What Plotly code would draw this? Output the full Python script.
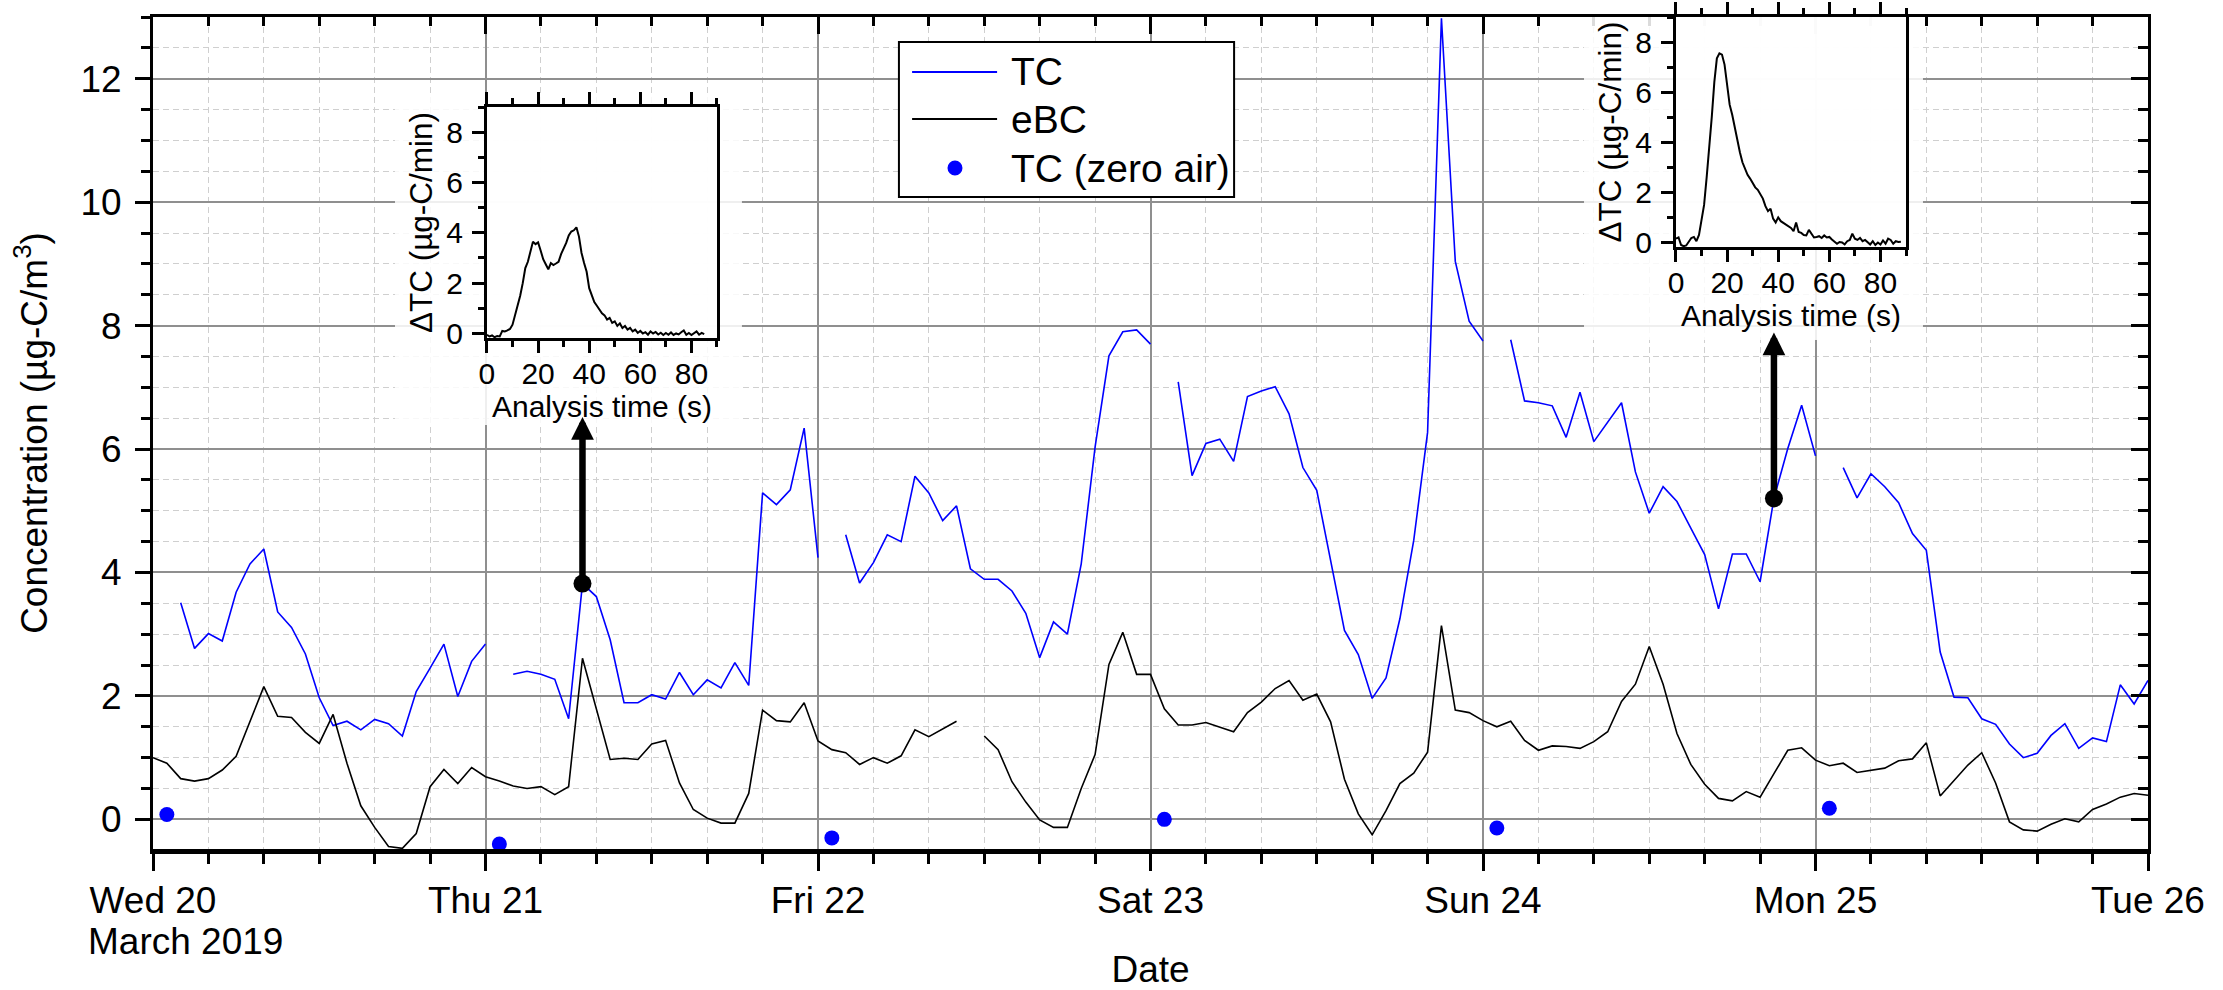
import pandas as pd
import plotly.graph_objects as go

# ---------------- data ----------------
start = pd.Timestamp("2019-03-20 00:00")
hours = pd.date_range(start, periods=145, freq="h")

# hourly total carbon (TC), µg-C/m3 ; None = no sample (zero-air check hour)
tc_wed = [None, None, 3.51, 2.77, 3.01, 2.89, 3.68, 4.14, 4.38, 3.36, 3.11, 2.68,
          1.97, 1.52, 1.59, 1.45, 1.62, 1.55, 1.35, 2.07, 2.45, 2.84, 1.99, 2.56]
tc_thu = [2.84, None, 2.35, 2.40, 2.35, 2.27, 1.63, 3.82, 3.61, 2.91, 1.89, 1.89,
          2.02, 1.95, 2.38, 2.02, 2.26, 2.13, 2.54, 2.17, 5.29, 5.10, 5.34, 6.34]
tc_fri = [4.24, None, 4.61, 3.83, 4.16, 4.61, 4.50, 5.56, 5.29, 4.84, 5.08, 4.06,
          3.89, 3.89, 3.70, 3.34, 2.62, 3.20, 3.00, 4.14, 6.03, 7.51, 7.90, 7.93]
tc_sat = [7.70, None, 7.09, 5.57, 6.09, 6.16, 5.80, 6.85, 6.94, 7.01, 6.57, 5.70,
          5.33, 4.17, 3.06, 2.67, 1.96, 2.29, 3.25, 4.52, 6.27, 12.98, 9.04, 8.07]
tc_sun = [7.75, None, 7.77, 6.78, 6.75, 6.70, 6.19, 6.92, 6.12, 6.44, 6.75, 5.63,
          4.96, 5.39, 5.15, 4.72, 4.29, 3.41, 4.30, 4.30, 3.85, 5.20, 6.01, 6.71]
tc_mon = [5.89, None, 5.70, 5.21, 5.60, 5.39, 5.13, 4.63, 4.36, 2.71, 1.98, 1.97,
          1.63, 1.54, 1.22, 1.00, 1.07, 1.36, 1.55, 1.15, 1.32, 1.26, 2.18, 1.87]
tc_tue = [2.25]

# hourly equivalent black carbon (eBC), µg-C/m3
ebc_wed = [1.00, 0.91, 0.66, 0.62, 0.66, 0.80, 1.02, 1.59, 2.15, 1.67, 1.65, 1.41,
           1.23, 1.70, 0.91, 0.22, -0.13, -0.44, -0.47, -0.23, 0.53, 0.81, 0.58, 0.84]
ebc_thu = [0.69, 0.62, 0.54, 0.50, 0.53, 0.40, 0.53, 2.61, 1.79, 0.97, 0.99, 0.97,
           1.22, 1.28, 0.59, 0.16, 0.02, -0.06, -0.06, 0.42, 1.77, 1.60, 1.58, 1.89]
ebc_fri = [1.27, 1.13, 1.08, 0.89, 1.00, 0.91, 1.03, 1.45, 1.34, 1.47, 1.59, None,
           1.35, 1.13, 0.61, 0.28, -0.01, -0.13, -0.13, 0.50, 1.05, 2.51, 3.03, 2.35]
ebc_sat = [2.35, 1.79, 1.53, 1.53, 1.57, 1.49, 1.42, 1.73, 1.90, 2.12, 2.25, 1.93,
           2.03, 1.58, 0.65, 0.09, -0.25, 0.14, 0.58, 0.75, 1.09, 3.14, 1.77, 1.73]
ebc_sun = [1.60, 1.50, 1.59, 1.28, 1.12, 1.19, 1.18, 1.15, 1.26, 1.42, 1.91, 2.19,
           2.80, 2.19, 1.39, 0.89, 0.57, 0.34, 0.30, 0.45, 0.36, 0.74, 1.12, 1.16]
ebc_mon = [0.96, 0.87, 0.91, 0.76, 0.80, 0.83, 0.95, 0.98, 1.24, 0.38, 0.63, 0.88,
           1.08, 0.59, -0.04, -0.17, -0.19, -0.08, 0.01, -0.04, 0.16, 0.25, 0.36, 0.42]
ebc_tue = [0.39]

tc = tc_wed + tc_thu + tc_fri + tc_sat + tc_sun + tc_mon + tc_tue
ebc = ebc_wed + ebc_thu + ebc_fri + ebc_sat + ebc_sun + ebc_mon + ebc_tue

# daily zero-air TC checks
zero_times = ["2019-03-20 01:00", "2019-03-21 01:00", "2019-03-22 01:00",
              "2019-03-23 01:00", "2019-03-24 01:00", "2019-03-25 01:00"]
zero_tc = [0.08, -0.40, -0.30, 0.00, -0.14, 0.18]

# samples whose thermograms are shown in the insets (hour index into `hours`)
sample_idx = [31, 117]
arrow_tip = [6.52, 7.89]

# thermograms, ΔTC (µg-C/min) vs analysis time (s)
thermo1_t = list(range(0, 86))
thermo1 = [-0.05, -0.12, -0.08, -0.15, -0.10, -0.12, 0.10, 0.08, 0.12, 0.18,
           0.35, 0.70, 1.05, 1.50, 2.00, 2.60, 2.85, 3.25, 3.65, 3.55,
           3.62, 3.30, 2.95, 2.75, 2.55, 2.80, 2.72, 2.78, 2.85, 3.15,
           3.35, 3.60, 3.90, 4.05, 4.10, 4.22, 3.85, 3.20, 2.80, 2.45,
           1.80, 1.50, 1.25, 1.10, 0.95, 0.80, 0.72, 0.55, 0.62, 0.42,
           0.48, 0.30, 0.40, 0.22, 0.30, 0.15, 0.22, 0.08, 0.15, 0.02,
           0.10, 0.00, 0.05, -0.05, 0.08, 0.00, 0.06, -0.04, 0.03, -0.06,
           0.02, -0.05, 0.04, -0.06, 0.00, -0.04, 0.05, 0.12, -0.05, 0.02,
           -0.06, 0.00, 0.08, -0.05, 0.02, -0.03]
thermo2_t = list(range(0, 89))
thermo2 = [0.15, 0.20, -0.10, -0.15, -0.12, 0.05, 0.18, 0.22, 0.05, 0.30,
           0.85, 1.50, 2.60, 3.70, 5.00, 6.40, 7.35, 7.55, 7.50, 7.10,
           6.20, 5.50, 5.10, 4.60, 4.05, 3.60, 3.20, 2.95, 2.70, 2.55,
           2.35, 2.20, 2.10, 1.95, 1.75, 1.45, 1.25, 1.35, 0.95, 0.80,
           1.00, 0.85, 0.78, 0.70, 0.62, 0.58, 0.45, 0.80, 0.42, 0.38,
           0.30, 0.28, 0.50, 0.35, 0.20, 0.22, 0.25, 0.18, 0.28, 0.20,
           0.22, 0.12, 0.05, -0.05, 0.02, 0.00, -0.08, 0.05, 0.10, 0.35,
           0.15, 0.10, 0.18, 0.05, 0.10, 0.02, -0.08, 0.05, -0.10, 0.00,
           -0.08, 0.08, -0.05, 0.15, 0.10, -0.05, 0.05, 0.02, 0.03]

day_ticks = ["2019-03-20", "2019-03-21", "2019-03-22", "2019-03-23",
             "2019-03-24", "2019-03-25", "2019-03-26"]
day_labels = ["Wed 20", "Thu 21", "Fri 22", "Sat 23", "Sun 24", "Mon 25", "Tue 26"]

legend_names = ["TC", "eBC", "TC (zero air)"]

# ---------------- styling ----------------
FONT = "Liberation Sans, Arial, sans-serif"
BIG = 37
SMALL = 30
BLUE = "#0000ff"
MAJOR_GRID = "#8f8f8f"
MINOR_GRID = "#cfcfcf"
DASH = "6px,4px"

fig = go.Figure()

fig.add_trace(go.Scatter(x=hours, y=tc, mode="lines", name=legend_names[0],
                         line=dict(color=BLUE, width=1.6), connectgaps=False,
                         showlegend=False))
fig.add_trace(go.Scatter(x=hours, y=ebc, mode="lines", name=legend_names[1],
                         line=dict(color="black", width=1.6), connectgaps=False,
                         showlegend=False))
fig.add_trace(go.Scatter(x=pd.to_datetime(zero_times), y=zero_tc, mode="markers",
                         name=legend_names[2], marker=dict(color=BLUE, size=15),
                         showlegend=False))

# highlighted samples
fig.add_trace(go.Scatter(x=[hours[i] for i in sample_idx],
                         y=[tc[i] for i in sample_idx], mode="markers",
                         marker=dict(color="black", size=18), showlegend=False))

# mirrored frame axes (top / right, inward ticks)
fig.add_trace(go.Scatter(x=[None], y=[None], xaxis="x2", yaxis="y2",
                         showlegend=False, hoverinfo="skip"))

# translucent panels behind the insets (their subplot backgrounds)
for k in ("3", "4"):
    fig.add_trace(go.Scatter(x=[None], y=[None], xaxis="x" + k, yaxis="y" + k,
                             showlegend=False, hoverinfo="skip"))

# inset thermograms
fig.add_trace(go.Scatter(x=thermo1_t, y=thermo1, mode="lines", xaxis="x5", yaxis="y5",
                         line=dict(color="black", width=2), showlegend=False))
fig.add_trace(go.Scatter(x=thermo2_t, y=thermo2, mode="lines", xaxis="x6", yaxis="y6",
                         line=dict(color="black", width=2), showlegend=False))

x_range = [start, pd.Timestamp("2019-03-26 00:00")]
y_range = [-0.48, 13]
four_h = 4 * 3600 * 1000

fig.update_layout(
    width=2223, height=990, autosize=False,
    margin=dict(l=153, r=75, t=17, b=141),
    paper_bgcolor="white", plot_bgcolor="rgba(255,255,255,0.86)",
    font=dict(family=FONT, size=BIG, color="black"),
    showlegend=False,
    xaxis=dict(
        type="date", range=x_range, domain=[0, 1], anchor="y",
        tickmode="array", tickvals=day_ticks, ticktext=day_labels,
        ticks="outside", ticklen=17, tickwidth=3, tickcolor="black",
        showline=True, linewidth=4.5, linecolor="black",
        showgrid=True, gridcolor=MAJOR_GRID, gridwidth=1.5, zeroline=False,
        minor=dict(tickmode="linear", tick0="2019-03-20", dtick=four_h,
                   ticks="outside", ticklen=10, tickwidth=3, tickcolor="black",
                   showgrid=True, gridcolor=MINOR_GRID, gridwidth=1, griddash=DASH),
        tickfont=dict(size=BIG), ticklabelstandoff=-2,
        title=dict(text="Date", font=dict(size=BIG), standoff=46),
        automargin=False,
    ),
    yaxis=dict(
        range=y_range, domain=[0, 1], anchor="x",
        tick0=0, dtick=2, ticks="outside", ticklen=15, tickwidth=3, tickcolor="black",
        showline=True, linewidth=3, linecolor="black",
        showgrid=True, gridcolor=MAJOR_GRID, gridwidth=1.5, zeroline=False,
        minor=dict(dtick=0.5, ticks="outside", ticklen=9, tickwidth=3, tickcolor="black",
                   showgrid=True, gridcolor=MINOR_GRID, gridwidth=1, griddash=DASH),
        tickfont=dict(size=BIG), ticklabelstandoff=6,
        title=dict(text="Concentration (µg-C/m<sup>3</sup>)", font=dict(size=BIG),
                   standoff=22),
        automargin=False,
    ),
    xaxis2=dict(
        type="date", range=x_range, overlaying="x", side="top", anchor="y2",
        tickmode="array", tickvals=day_ticks, showticklabels=False,
        ticks="inside", ticklen=17, tickwidth=3, tickcolor="black",
        showline=True, linewidth=3, linecolor="black", showgrid=False, zeroline=False,
        minor=dict(tickmode="linear", tick0="2019-03-20", dtick=four_h,
                   ticks="inside", ticklen=9, tickwidth=3, tickcolor="black",
                   showgrid=False),
        automargin=False,
    ),
    yaxis2=dict(
        range=y_range, overlaying="y", side="right", anchor="x2",
        tick0=0, dtick=2, showticklabels=False,
        ticks="inside", ticklen=17, tickwidth=3, tickcolor="black",
        showline=True, linewidth=3, linecolor="black", showgrid=False, zeroline=False,
        minor=dict(dtick=0.5, ticks="inside", ticklen=10, tickwidth=3, tickcolor="black",
                   showgrid=False),
        automargin=False,
    ),
)

# bare axes for the two panels
panel_axis = dict(range=[0, 1], showline=False, showgrid=False, zeroline=False,
                  showticklabels=False, ticks="", fixedrange=True, automargin=False)
fig.update_layout(
    xaxis3=dict(panel_axis, domain=[0.1213, 0.2952], anchor="y3"),
    yaxis3=dict(panel_axis, domain=[0.5096, 0.9062], anchor="x3"),
    xaxis4=dict(panel_axis, domain=[0.7173, 0.8872], anchor="y4"),
    yaxis4=dict(panel_axis, domain=[0.6118, 1.0], anchor="x4"),
)

inset_x = dict(range=[0, 90], tick0=0, dtick=20, ticks="outside", ticklen=12, tickwidth=3,
               tickcolor="black", mirror="allticks", showline=True, linewidth=3,
               linecolor="black", showgrid=False, zeroline=False, automargin=False,
               minor=dict(dtick=10, ticks="outside", ticklen=6, tickwidth=3,
                          tickcolor="black", showgrid=False),
               tickfont=dict(size=SMALL), ticklabelstandoff=-5,
               title=dict(text="Analysis time (s)", font=dict(size=SMALL), standoff=0))
inset_y = dict(range=[-0.18, 9], tick0=0, dtick=2, ticks="outside", ticklen=12, tickwidth=3,
               tickcolor="black", mirror=True, showline=True, linewidth=3,
               linecolor="black", showgrid=False, zeroline=False, automargin=False,
               minor=dict(dtick=1, ticks="outside", ticklen=6, tickwidth=3,
                          tickcolor="black", showgrid=False),
               tickfont=dict(size=SMALL), ticklabelstandoff=3,
               title=dict(text="ΔTC (µg-C/min)", font=dict(size=31.5), standoff=5))

fig.update_layout(
    xaxis5=dict(inset_x, domain=[0.1674, 0.2827], anchor="y5"),
    yaxis5=dict(inset_y, domain=[0.6142, 0.8918], anchor="x5"),
    xaxis6=dict(inset_x, domain=[0.7634, 0.8787], anchor="y6"),
    yaxis6=dict(inset_y, domain=[0.7236, 1.0], anchor="x6"),
)

# arrows from the highlighted samples up to their thermograms
for i, tip in zip(sample_idx, arrow_tip):
    fig.add_annotation(x=hours[i], y=tip, ax=hours[i], ay=tc[i],
                       xref="x", yref="y", axref="x", ayref="y",
                       text="", showarrow=True, arrowhead=2, arrowsize=0.7,
                       arrowwidth=6.5, arrowcolor="black", standoff=0, startstandoff=0)

fig.add_annotation(text="March 2019", xref="paper", yref="paper",
                   x=-0.0335, y=-0.111, xanchor="left", yanchor="middle",
                   showarrow=False, font=dict(family=FONT, size=BIG))

# ---------------- legend box ----------------
fig.add_shape(type="rect", xref="paper", yref="paper", layer="above",
              x0=0.3739, x1=0.5419, y0=0.7837, y1=0.9700,
              fillcolor="white", line=dict(color="black", width=2))
row_y = [0.9339, 0.8774, 0.8185]
fig.add_shape(type="line", xref="paper", yref="paper", layer="above",
              x0=0.3805, x1=0.4231, y0=row_y[0], y1=row_y[0],
              line=dict(color=BLUE, width=2))
fig.add_shape(type="line", xref="paper", yref="paper", layer="above",
              x0=0.3805, x1=0.4231, y0=row_y[1], y1=row_y[1],
              line=dict(color="black", width=2))
fig.add_shape(type="circle", xref="paper", yref="paper", layer="above",
              xsizemode="pixel", ysizemode="pixel", xanchor=0.4020, yanchor=row_y[2],
              x0=-7.5, x1=7.5, y0=-7.5, y1=7.5,
              fillcolor=BLUE, line=dict(color=BLUE, width=0))
for name, ry in zip(legend_names, row_y):
    fig.add_annotation(text=name, xref="paper", yref="paper", x=0.4291, y=ry,
                       xanchor="left", yanchor="middle", showarrow=False,
                       font=dict(family=FONT, size=39))

fig.write_html("out.html", post_script="document.body.style.margin='0';")
